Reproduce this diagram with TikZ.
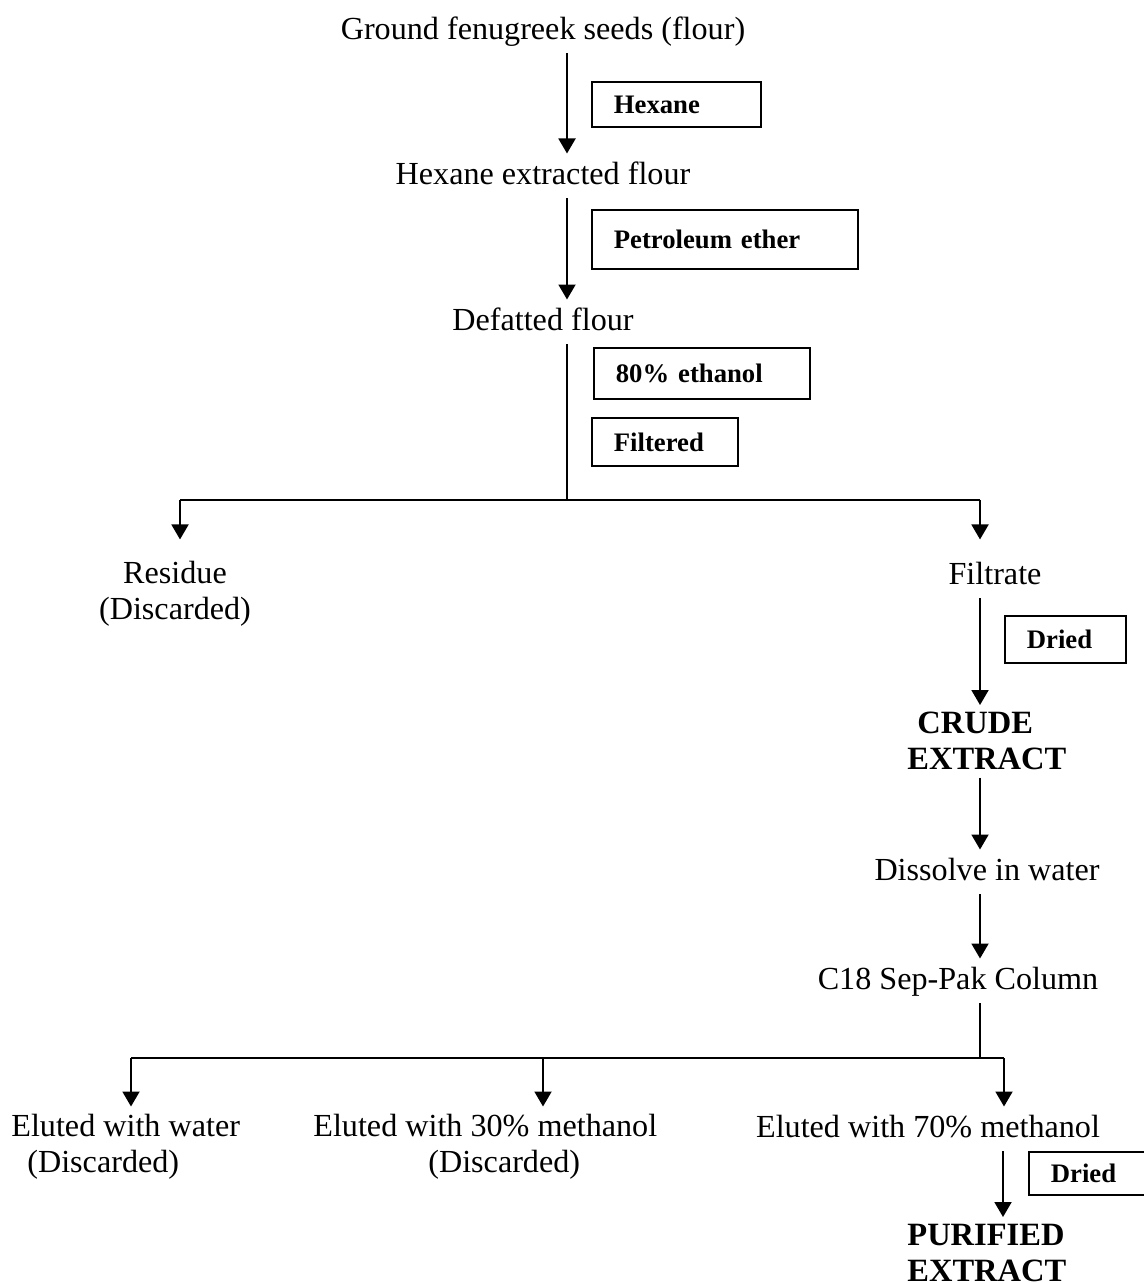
\documentclass[tikz,border=0pt]{standalone}
\usepackage{fontspec}
\setmainfont{Liberation Serif}
\usepackage{tikz}
\usetikzlibrary{arrows.meta}

\begin{document}
\begin{tikzpicture}[
    x=0.02cm, y=-0.02cm,
    % Define a style for the process stages (one line)
    stage/.style={anchor=north, inner sep=4pt, text height=13.2pt, text depth=4pt,
        font=\fontsize{18.3}{20.5}\selectfont},
    % stages written on two lines
    stages/.style={inner sep=4pt, align=center, font=\fontsize{18.3}{20.5}\selectfont},
    % the two extracts
    product/.style={anchor=north west, inner sep=4pt, align=left,
        font=\fontsize{18.5}{20.5}\selectfont\bfseries},
    % boxes with the solvent or treatment
    solvent/.style={draw, line width=1pt, anchor=west, align=left, inner xsep=0.44cm,
        font=\fontsize{15.2}{18}\selectfont\bfseries},
    arr/.style={-{Triangle[width=0.34cm,length=0.3cm]}, line width=1.1pt},
    link/.style={line width=1.1pt}
]
    \useasboundingbox (0,0) rectangle (1143,1283);

    % Columns of the arrows
    \coordinate (colA) at (567,0);
    \coordinate (colB) at (980,0);
    \coordinate (colC) at (1003,0);

    % Main stages
    \node[stage] (ground) at (543,8.5) {Ground fenugreek seeds (flour)};
    \node[stage] (hexflour) at (543,153.5) {Hexane extracted flour};
    \node[stage] (defatted) at (543,299.5) {Defatted flour};
    \node[stages, anchor=north] (residue) at (175,553.5) {Residue\\(Discarded)};
    \node[stage] (filtrate) at (995,553.5) {Filtrate};
    \node[product] (crude) at (900,705) {\hspace*{0.2cm}CRUDE\\EXTRACT};
    \node[stage] (dissolve) at (987,849.5) {Dissolve in water};
    \node[stage] (column) at (958,958.5) {C18 Sep-Pak Column};
    \node[stages, anchor=north west, align=left] (water) at (4,1106.5)
        {Eluted with water\\\hspace*{0.32cm}(Discarded)};
    \node[stages, anchor=north west, align=left] (meth30) at (306,1106.5)
        {Eluted with 30\% methanol\\\hspace*{2.3cm}(Discarded)};
    \node[stage] (meth70) at (928,1106.5) {Eluted with 70\% methanol};
    \node[product] (purified) at (900,1217) {PURIFIED\\EXTRACT};

    % Solvents and treatments
    \node[solvent, text width=2.5cm, minimum height=0.9cm] (hexane) at (591,104.5) {Hexane};
    \node[solvent, text width=4.44cm, minimum height=1.18cm] (petrol) at (591,239.5) {Petroleum ether};
    \node[solvent, text width=3.44cm, minimum height=1.02cm] (ethanol) at (593,373.5) {80\% ethanol};
    \node[solvent, text width=2.04cm, minimum height=0.96cm] (filtered) at (591,442) {Filtered};
    \node[solvent, text width=1.54cm, minimum height=0.94cm] (dried1) at (1004,639.5) {Dried};
    \node[solvent, text width=1.54cm, minimum height=0.86cm] (dried2) at (1028,1173.5) {Dried};

    % Extraction
    \draw[arr] (ground.south -| colA) -- (hexflour.north -| colA);
    \draw[arr] (hexflour.south -| colA) -- (defatted.north -| colA);

    % First split
    \coordinate (split1) at (567,500);
    \coordinate (splitL) at (180,500);
    \coordinate (splitR) at (980,500);
    \draw[link] (defatted.south -| colA) -- (split1);
    \draw[link] (splitL) -- (splitR);
    \draw[arr, shorten >=8pt] (splitL) -- (residue.north -| splitL);
    \draw[arr, shorten >=8pt] (splitR) -- (filtrate.north -| splitR);

    % Filtrate to the column
    \draw[arr] (filtrate.south -| colB) -- (crude.north -| colB);
    \draw[arr] (crude.south -| colB) -- (dissolve.north -| colB);
    \draw[arr] (dissolve.south -| colB) -- (column.north -| colB);

    % Second split
    \coordinate (split2) at (980,1058);
    \draw[link] (column.south -| colB) -- (split2);
    \draw[link] (131,1058) -- (1004,1058);
    \foreach \x/\target in {131/water, 543/meth30, 1004/meth70} {
        \draw[arr] (\x,1058) -- (\target.north -| \x,0);
    }

    \draw[arr] (meth70.south -| colC) -- (purified.north -| colC);

\end{tikzpicture}
\end{document}
